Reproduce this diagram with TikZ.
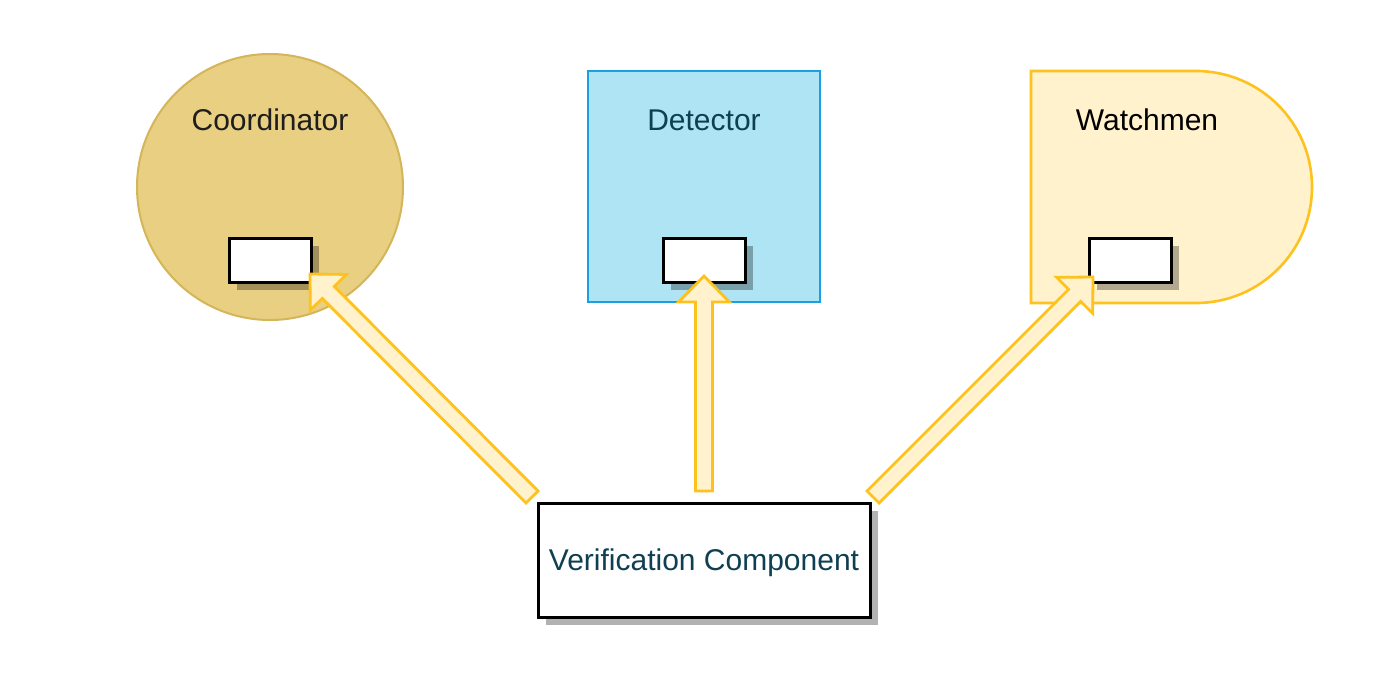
\documentclass[tikz,border=0pt]{standalone}
\usepackage{fontspec}
\setmainfont{Liberation Sans}
\usetikzlibrary{calc,shadows}
\definecolor{coordfill}{HTML}{E8CF82}
\definecolor{coorddraw}{HTML}{D4B55A}
\definecolor{detfill}{HTML}{AEE4F3}
\definecolor{detdraw}{HTML}{1BA1E2}
\definecolor{watchfill}{HTML}{FFF2CC}
\definecolor{watchdraw}{HTML}{FDC21E}
\definecolor{tealtext}{HTML}{0E3F52}
\definecolor{darktext}{HTML}{1E1E1E}
\newcommand\fatarrow[2]{%
  \coordinate (hb) at ($(#2)!26pt!(#1)$);
  \path[flexarrow] ($(#1)!8.5pt!90:(#2)$) -- ($(hb)!8.5pt!90:(#2)$) -- ($(hb)!25.5pt!90:(#2)$)
    -- (#2) -- ($(hb)!25.5pt!-90:(#2)$) -- ($(hb)!8.5pt!-90:(#2)$) -- ($(#1)!8.5pt!-90:(#2)$) -- cycle;}
\tikzset{
  lbl/.style={font=\fontsize{30}{36}\selectfont, inner sep=0pt},
  port/.style={draw=black, line width=3pt, fill=white, minimum width=82pt, minimum height=44pt, inner sep=0pt,
    drop shadow={shadow xshift=8pt, shadow yshift=-8pt, fill=black, opacity=0.3}},
  flexarrow/.style={draw=watchdraw, fill=watchfill, line width=2.8pt, line join=miter},
}
\begin{document}
\begin{tikzpicture}[x=1pt,y=-1pt]
\useasboundingbox (0,0) rectangle (1400,672);
% Coordinator
\node[circle, draw=coorddraw, fill=coordfill, line width=2pt, minimum size=266pt, inner sep=0pt] (coord) at (270,187) {};
\node[lbl, text=darktext] (coordlbl) at (270,120) {Coordinator};
% Detector
\node[draw=detdraw, fill=detfill, line width=2.6pt, minimum width=232pt, minimum height=231pt, inner sep=0pt] (det) at (704,186.5) {};
\node[lbl, text=tealtext] (detlbl) at (704,120) {Detector};
% Watchmen (delay shape)
\draw[draw=watchdraw, fill=watchfill, line width=2.6pt] (1031,71) -- (1196,71)
  arc[start angle=90, end angle=-90, radius=116pt] -- (1031,303) -- cycle;
\node[lbl, text=black] (watchlbl) at (1147,120) {Watchmen};
% ports
\node[port] (cport) at (270,260) {};
\node[port] (dport) at (704,260) {};
\node[port] (wport) at (1130,260) {};
% Verification component
\node[draw=black, line width=3pt, fill=white, minimum width=332pt, minimum height=114pt, inner sep=0pt,
  drop shadow={shadow xshift=8pt, shadow yshift=-8pt, fill=black, opacity=0.3},
  text=tealtext, font=\fontsize{30}{36}\selectfont] (ver) at (704,560) {\raisebox{-3pt}[\height][\depth]{Verification Component}};
% arrows
\coordinate (ls) at (532,497);
\coordinate (lt) at (310,274);
\coordinate (ms) at (704,491);
\coordinate (mt) at (704,276);
\coordinate (rs) at (873,497);
\coordinate (rt) at (1093,277);
\fatarrow{ls}{lt}
\fatarrow{ms}{mt}
\fatarrow{rs}{rt}
\end{tikzpicture}
\end{document}
